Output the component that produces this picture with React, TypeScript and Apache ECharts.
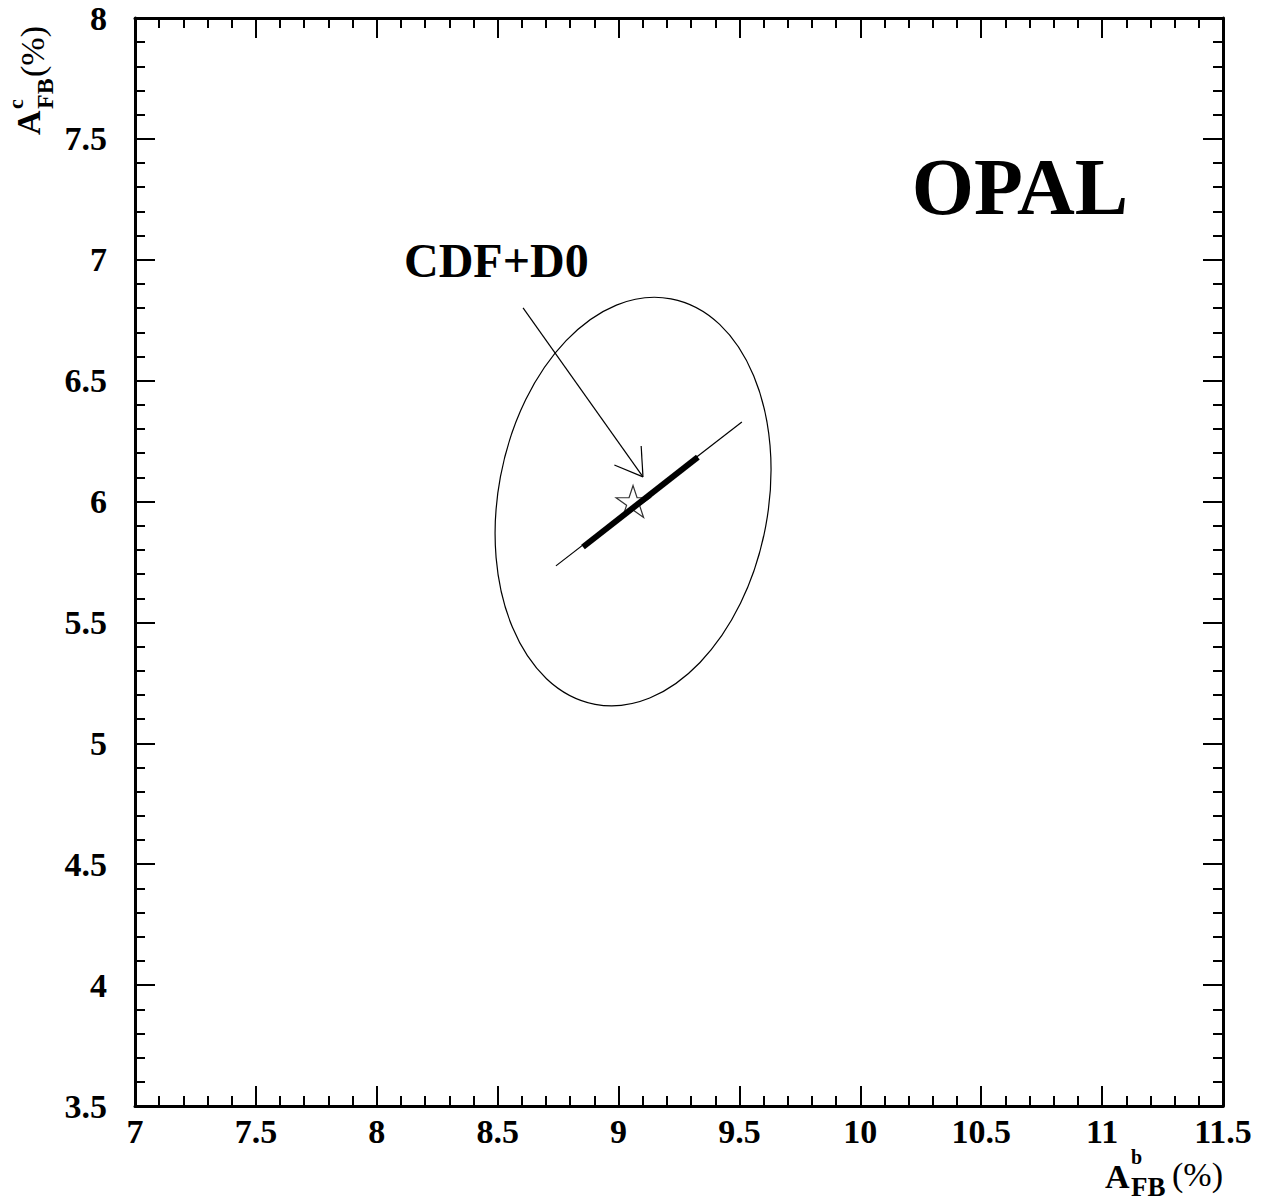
import React, { useEffect, useRef } from "react";
import * as echarts from "echarts";

// Axis ranges and tick steps
const X_RANGE = [7, 11.5];
const Y_RANGE = [3.5, 8];
const MAJOR_STEP = 0.5;
const MINOR_SPLIT = 5;

// Ellipse contour: [centerX, centerY, semiMajor, semiMinor, majorAxisAngleDeg]
const ELLIPSE = [[9.06, 6.0, 0.853, 0.558, 79.4]];
// Thin line (full extent)
const THIN_LINE = [
  [8.741, 5.734],
  [9.51, 6.329],
];
// Thick line (inner part)
const THICK_LINE = [
  [8.853, 5.812],
  [9.328, 6.184],
];
// Star point (CDF+D0 prediction)
const STAR = [[9.06, 6.0]];
// Arrow: [startX, startY, tipX, tipY]
const ARROW = [[8.605, 6.801, 9.101, 6.102]];

const STAR_PATH =
  "path://M0,-1 L0.2245,-0.309 L0.951,-0.309 L0.363,0.118 L0.588,0.809 L0,0.382 L-0.588,0.809 L-0.363,0.118 L-0.951,-0.309 L-0.2245,-0.309 Z";

const FONT = "'Liberation Serif', 'Times New Roman', serif";

function txt(
  text: string,
  x: number,
  y: number,
  size: number,
  bold: boolean,
  align: string = "left",
  rotation: number = 0,
  lineHeight?: number
) {
  return {
    type: "text",
    x,
    y,
    rotation,
    silent: true,
    style: {
      text,
      fill: "#000",
      fontSize: size,
      fontWeight: bold ? "bold" : "normal",
      fontFamily: FONT,
      lineHeight: lineHeight ?? size,
      align,
      textAlign: align,
      verticalAlign: "middle",
      textVerticalAlign: "middle",
    },
  };
}

export default function App() {
  const ref = useRef<HTMLDivElement>(null);
  useEffect(() => {
    if (!ref.current) return;
    const chart = echarts.init(ref.current, null, { renderer: "svg" });

    const axisCommon = (showLabel: boolean) => ({
      type: "value",
      interval: MAJOR_STEP,
      splitLine: { show: false },
      axisLine: { show: true, onZero: false, lineStyle: { color: "#000", width: 3 } },
      axisTick: { show: true, inside: true, length: 20, lineStyle: { color: "#000", width: 2 } },
      minorTick: {
        show: true,
        splitNumber: MINOR_SPLIT,
        length: 10,
        lineStyle: { color: "#000", width: 2 },
      },
      minorSplitLine: { show: false },
      axisLabel: {
        show: showLabel,
        color: "#000",
        fontFamily: FONT,
        fontWeight: "bold",
        fontSize: 34,
      },
    });

    const option: any = {
      animation: false,
      backgroundColor: "#fff",
      grid: { left: 135, right: 40, top: 18, bottom: 95, containLabel: false },
      xAxis: [
        {
          ...axisCommon(true),
          position: "bottom",
          min: X_RANGE[0],
          max: X_RANGE[1],
          axisLabel: { ...axisCommon(true).axisLabel, margin: 8 },
        },
        { ...axisCommon(false), position: "top", min: X_RANGE[0], max: X_RANGE[1] },
      ],
      yAxis: [
        {
          ...axisCommon(true),
          position: "left",
          min: Y_RANGE[0],
          max: Y_RANGE[1],
          axisLabel: { ...axisCommon(true).axisLabel, margin: 28 },
        },
        { ...axisCommon(false), position: "right", min: Y_RANGE[0], max: Y_RANGE[1] },
      ],
      series: [
        {
          type: "custom",
          name: "ellipse",
          xAxisIndex: 0,
          yAxisIndex: 0,
          encode: { x: 0, y: 1 },
          data: ELLIPSE,
          z: 2,
          renderItem: (params: any, api: any) => {
            const cx = api.value(0);
            const cy = api.value(1);
            const a = api.value(2);
            const b = api.value(3);
            const th = (api.value(4) * Math.PI) / 180;
            const c = api.coord([cx, cy]);
            const pMaj = api.coord([cx + a * Math.cos(th), cy + a * Math.sin(th)]);
            const pMin = api.coord([cx - b * Math.sin(th), cy + b * Math.cos(th)]);
            const rx = Math.hypot(pMaj[0] - c[0], pMaj[1] - c[1]);
            const ry = Math.hypot(pMin[0] - c[0], pMin[1] - c[1]);
            const rot = Math.atan2(-(pMaj[1] - c[1]), pMaj[0] - c[0]);
            return {
              type: "ellipse",
              x: c[0],
              y: c[1],
              rotation: rot,
              shape: { cx: 0, cy: 0, rx, ry },
              style: { fill: "none", stroke: "#000", lineWidth: 1.2 },
            };
          },
        },
        {
          type: "scatter",
          name: "star",
          data: STAR,
          symbol: STAR_PATH,
          symbolSize: [34, 32],
          z: 3,
          itemStyle: { color: "rgba(0,0,0,0)", borderColor: "#000", borderWidth: 1.2 },
        },
        {
          type: "line",
          name: "thin",
          data: THIN_LINE,
          showSymbol: false,
          symbol: "none",
          z: 4,
          lineStyle: { color: "#000", width: 1.2 },
        },
        {
          type: "line",
          name: "thick",
          data: THICK_LINE,
          showSymbol: false,
          symbol: "none",
          z: 5,
          lineStyle: { color: "#000", width: 6, cap: "butt" },
        },
        {
          type: "custom",
          name: "arrow",
          encode: { x: [0, 2], y: [1, 3] },
          data: ARROW,
          z: 6,
          renderItem: (params: any, api: any) => {
            const s = api.coord([api.value(0), api.value(1)]);
            const t = api.coord([api.value(2), api.value(3)]);
            const ang = Math.atan2(s[1] - t[1], s[0] - t[0]);
            const L = 31;
            const spread = (32 * Math.PI) / 180;
            const w1 = [t[0] + L * Math.cos(ang - spread), t[1] + L * Math.sin(ang - spread)];
            const w2 = [t[0] + L * Math.cos(ang + spread), t[1] + L * Math.sin(ang + spread)];
            const st = { stroke: "#000", lineWidth: 1.2 };
            return {
              type: "group",
              children: [
                { type: "line", shape: { x1: s[0], y1: s[1], x2: t[0], y2: t[1] }, style: st },
                { type: "line", shape: { x1: t[0], y1: t[1], x2: w1[0], y2: w1[1] }, style: st },
                { type: "line", shape: { x1: t[0], y1: t[1], x2: w2[0], y2: w2[1] }, style: st },
              ],
            };
          },
        },
      ],
      graphic: [
        txt("OPAL", 1020, 187, 80, true, "center"),
        txt("CDF+D0", 404, 260, 48, true, "left"),
        // x-axis title
        txt("A", 1105, 1176, 34, true, "left", 0, 26),
        txt("b", 1131, 1157, 20, true, "left", 0, 15),
        txt("FB", 1131, 1187, 27, true, "left", 0, 20),
        txt("(%)", 1172, 1174, 34, false, "left", 0, 30),
        // y-axis title (rotated)
        txt("A", 28, 135, 34, true, "left", Math.PI / 2, 26),
        txt("c", 15, 109, 22, true, "left", Math.PI / 2, 15),
        txt("FB", 45, 109, 24, true, "left", Math.PI / 2, 18),
        txt("(%)", 32, 77, 34, false, "left", Math.PI / 2, 30),
      ],
    };
    chart.setOption(option);
    return () => chart.dispose();
  }, []);
  return (
    <div
      ref={ref}
      style={{ position: "fixed", left: 0, top: 0, width: 1263, height: 1201, background: "#fff" }}
    />
  );
}
